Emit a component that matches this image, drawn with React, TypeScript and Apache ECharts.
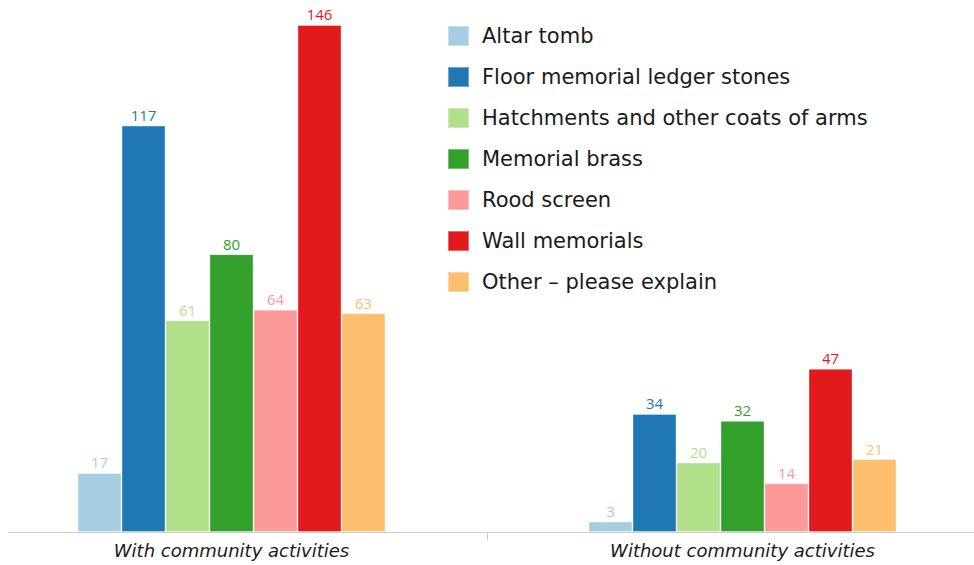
import React, { useEffect, useRef } from "react";
import * as echarts from "echarts";

const categories = ["With community activities", "Without community activities"];
const seriesNames = [
  "Altar tomb",
  "Floor memorial ledger stones",
  "Hatchments and other coats of arms",
  "Memorial brass",
  "Rood screen",
  "Wall memorials",
  "Other – please explain",
];
const withValues = [17, 117, 61, 80, 64, 146, 63];
const withoutValues = [3, 34, 20, 32, 14, 47, 21];
const colors = ["#a6cee3", "#1f78b4", "#b2df8a", "#33a02c", "#fb9a99", "#e31a1c", "#fdbf6f"];

export default function App() {
  const ref = useRef<HTMLDivElement>(null);
  useEffect(() => {
    document.body.style.margin = "0";
    document.body.style.overflow = "hidden";
    const chart = echarts.init(ref.current!, null, { renderer: "svg" });
    const font = "'Open Sans', 'Noto Sans', sans-serif";
    const wide = "'DejaVu Sans', sans-serif";
    chart.setOption({
      animation: false,
      textStyle: { fontFamily: font },
      grid: { left: 0, right: 0, top: 11, bottom: 33, containLabel: false },
      legend: {
        orient: "vertical",
        left: 466,
        top: 20,
        itemWidth: 21,
        itemHeight: 20,
        itemGap: 19,
        icon: "rect",
        textStyle: {
          fontSize: 21,
          lineHeight: 20,
          color: "#1a1a1a",
          fontFamily: wide,
          padding: [0, 0, 0, 8],
        },
        data: seriesNames,
      },
      xAxis: {
        type: "category",
        data: categories,
        axisLine: { lineStyle: { color: "#cccccc", width: 1 } },
        axisTick: { show: true, length: 8, lineStyle: { color: "#cccccc" } },
        axisLabel: {
          fontSize: 18,
          fontStyle: "italic",
          color: "#1a1a1a",
          margin: 9,
          fontFamily: wide,
        },
      },
      yAxis: {
        type: "value",
        min: 0,
        max: 150,
        show: false,
        splitLine: { show: false },
      },
      series: seriesNames.map((name, i) => ({
        name,
        type: "bar",
        data: [withValues[i], withoutValues[i]],
        barWidth: 44,
        barGap: "0%",
        itemStyle: { color: colors[i], borderColor: "rgba(255,255,255,0.35)", borderWidth: 1 },
        label: {
          show: true,
          position: "top",
          distance: 3,
          color: colors[i],
          fontSize: 15,
          fontFamily: font,
        },
      })),
    });
    return () => chart.dispose();
  }, []);
  return (
    <div
      style={{ position: "absolute", left: 8, top: 0, width: 966, height: 565, overflow: "hidden" }}
    >
      <div
        ref={ref}
        style={{ position: "absolute", left: -32, top: 0, width: 1022, height: 565 }}
      />
    </div>
  );
}
